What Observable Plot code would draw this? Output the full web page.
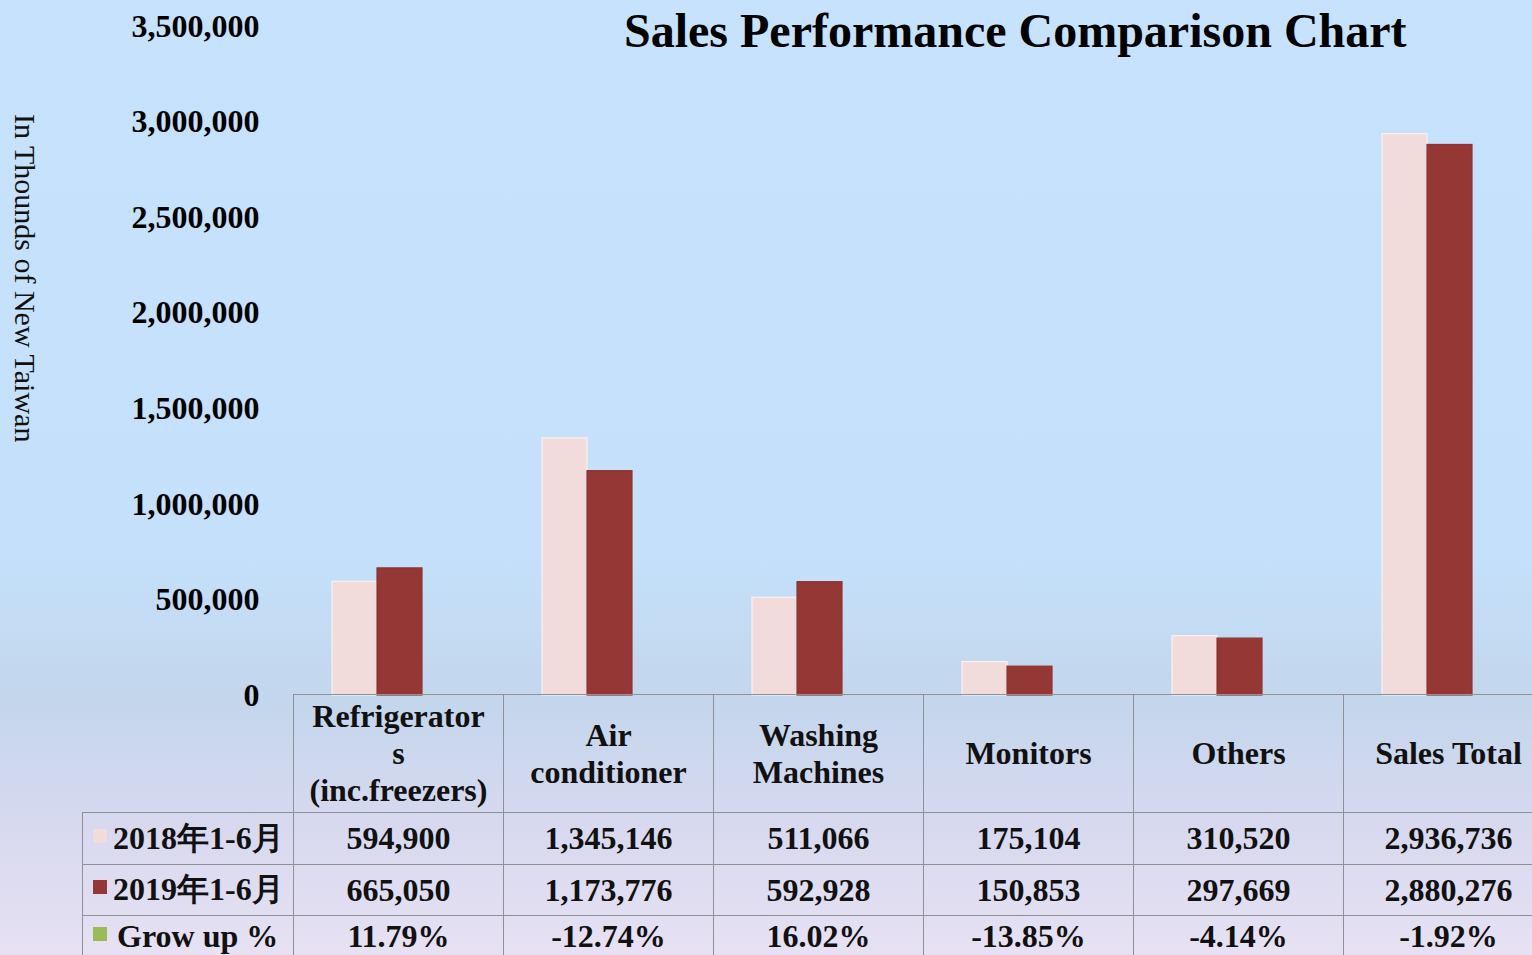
<!DOCTYPE html>
<html>
<head>
<meta charset="utf-8">
<script src="https://cdn.jsdelivr.net/npm/d3@7"></script>
<script src="https://cdn.jsdelivr.net/npm/@observablehq/plot@0.6"></script>
<style>
  html, body { margin: 0; padding: 0; width: 1532px; height: 955px; overflow: hidden; }
  body {
    position: relative;
    font-family: "Liberation Serif", "Times New Roman", serif;
    background: linear-gradient(to bottom, #c6e2fd 0px, #c4e0fa 560px, #c3d6ec 700px, #d8d9ef 830px, #e7e1f3 955px);
  }
  #chart { position: absolute; left: 0; top: 0; width: 1554px; }
  #chart svg { max-width: none !important; }
  #title { position: absolute; left: 624px; top: 7px; font-size: 48px; line-height: 48px; font-weight: bold; white-space: nowrap; color: #000; }
  #ylabel { position: absolute; left: 8px; top: 114px; writing-mode: vertical-rl; font-size: 30px; line-height: 34px; white-space: nowrap; color: #111; }
  table { position: absolute; left: 82px; top: 694px; width: 1471px; border-collapse: collapse; table-layout: fixed; }
  td { border: 1.5px solid #8e9197; text-align: center; vertical-align: middle; font-weight: bold; font-size: 32px; padding: 0; color: #111; }
  td.head { line-height: 37px; white-space: pre-line; }
  td.blank { border-top: none; border-left: none; }
  td.lab { text-align: left; padding-left: 10px; white-space: nowrap; }
  tr.last td { vertical-align: top; padding-top: 1px; line-height: 38px; }
  .sw { display: inline-block; width: 14px; height: 14px; margin-right: 6px; vertical-align: 6px; }
  .sw.g { margin-right: 10px; }
</style>
</head>
<body>
<div id="chart"></div>
<div id="title"></div>
<div id="ylabel"></div>
<table id="tbl"></table>
<script>
// ---- data ----
const titleText = "Sales Performance Comparison Chart";
const yAxisLabel = "In Thounds of New Taiwan";
const categories = ["Refrigerator\ns\n(inc.freezers)", "Air\nconditioner", "Washing\nMachines", "Monitors", "Others", "Sales Total"];
const years = ["2018年1-6月", "2019年1-6月"];
const sales2018 = [594900, 1345146, 511066, 175104, 310520, 2936736];
const sales2019 = [665050, 1173776, 592928, 150853, 297669, 2880276];
const growLabel = "Grow up %";
const growPct = ["11.79%", "-12.74%", "16.02%", "-13.85%", "-4.14%", "-1.92%"];
const yTicks = [0, 500000, 1000000, 1500000, 2000000, 2500000, 3000000, 3500000];
const seriesColors = ["#f2dcdb", "#953735"];
const growColor = "#9bbb59";

// long table for Plot
const rows = [];
categories.forEach((c, i) => {
  rows.push({category: c, year: years[0], value: sales2018[i]});
  rows.push({category: c, year: years[1], value: sales2019[i]});
});

const fmt = d3.format(",");

const chart = Plot.plot({
  width: 1554,
  height: 720,
  marginLeft: 293,
  marginRight: 0,
  marginTop: 26,
  marginBottom: 25,
  style: {background: "transparent", fontFamily: "'Liberation Serif', 'Times New Roman', serif", color: "#000", maxWidth: "none", overflow: "visible"},
  fx: {domain: categories, padding: 0, axis: null},
  x: {domain: years, paddingInner: 0, paddingOuter: 1.283, align: 0.314, axis: null},
  y: {domain: [0, 3500000]},
  color: {domain: years, range: seriesColors},
  marks: [
    Plot.barY(rows, {
      fx: "category", x: "year", y: "value", fill: "year",
      stroke: d => d.year === years[0] ? "#fbf1f1" : "#8e3432",
      strokeWidth: 1.2, inset: 0
    }),
    Plot.axisY({
      ticks: yTicks, tickFormat: fmt, tickSize: 0, tickPadding: 35,
      fontSize: 32, fontWeight: "bold", label: null,
      line: true, stroke: "#8c8f95", strokeWidth: 1.5
    })
  ]
});
document.getElementById("chart").appendChild(chart);
document.getElementById("title").textContent = titleText;
document.getElementById("ylabel").textContent = yAxisLabel;

// ---- data table below the chart ----
const tbl = document.getElementById("tbl");
const colgroup = document.createElement("colgroup");
[211, ...categories.map(() => 210)].forEach(w => {
  const col = document.createElement("col");
  col.style.width = w + "px";
  colgroup.appendChild(col);
});
tbl.appendChild(colgroup);

function addRow(height, labelHTML, cells, cls, rowCls) {
  const tr = document.createElement("tr");
  tr.style.height = height + "px";
  if (rowCls) tr.className = rowCls;
  const th = document.createElement("td");
  if (labelHTML === null) th.className = "blank";
  else { th.className = "lab"; th.innerHTML = labelHTML; }
  tr.appendChild(th);
  cells.forEach(t => {
    const td = document.createElement("td");
    if (cls) td.className = cls;
    td.textContent = t;
    tr.appendChild(td);
  });
  tbl.appendChild(tr);
}
const sw = (c, k = "") => `<span class="sw ${k}" style="background:${c}"></span>`;
addRow(118, null, categories, "head");
addRow(52, sw(seriesColors[0]) + years[0], sales2018.map(fmt));
addRow(51, sw(seriesColors[1]) + years[1], sales2019.map(fmt));
addRow(51, sw(growColor, "g") + growLabel, growPct, null, "last");
</script>
</body>
</html>
